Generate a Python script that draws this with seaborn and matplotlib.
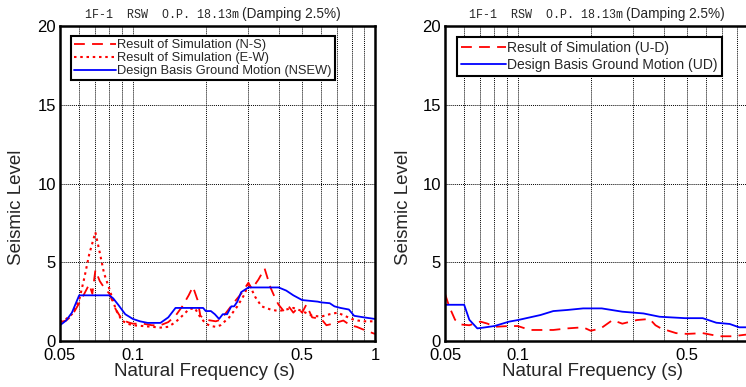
import matplotlib
matplotlib.use('Agg')
import matplotlib.pyplot as plt
import pandas as pd
import seaborn as sns

sns.set_style('white')
plt.rcParams['font.family'] = ['Liberation Sans', 'DejaVu Sans']

# Left panel: horizontal (NS / EW)
f_ns = [0.05, 0.053, 0.056, 0.06, 0.063, 0.066, 0.068, 0.07, 0.073, 0.076, 0.08,
        0.085, 0.09, 0.095, 0.1, 0.11, 0.12, 0.13, 0.14, 0.15, 0.16, 0.17, 0.177,
        0.185, 0.19, 0.2, 0.21, 0.22, 0.23, 0.24, 0.26, 0.28, 0.3, 0.31, 0.33,
        0.35, 0.37, 0.39, 0.4, 0.42, 0.44, 0.46, 0.48, 0.5, 0.52, 0.55, 0.6,
        0.63, 0.67, 0.74, 0.79, 0.84, 0.92, 1.0]
v_ns = [1.2, 1.3, 1.6, 2.4, 3.0, 3.6, 3.0, 4.5, 3.8, 3.4, 3.0,
        2.0, 1.4, 1.2, 1.1, 1.1, 1.0, 1.0, 1.2, 1.6, 2.2, 2.9, 3.45,
        2.6, 1.6, 1.35, 1.3, 1.25, 1.35, 1.7, 2.4, 3.0, 3.7, 3.3, 3.9,
        4.6, 3.4, 2.6, 2.3, 1.9, 2.2, 1.8, 2.1, 1.8, 2.3, 1.5, 1.4,
        1.0, 1.1, 1.3, 1.0, 0.9, 0.65, 0.45]

f_ew = [0.05, 0.053, 0.056, 0.06, 0.063, 0.066, 0.07, 0.073, 0.076, 0.08, 0.085,
        0.09, 0.095, 0.1, 0.11, 0.12, 0.13, 0.14, 0.15, 0.16, 0.17, 0.18, 0.19,
        0.2, 0.21, 0.22, 0.23, 0.25, 0.27, 0.29, 0.3, 0.32, 0.34, 0.37, 0.4,
        0.43, 0.46, 0.5, 0.55, 0.6, 0.65, 0.7, 0.75, 0.8, 0.85, 0.9, 1.0]
v_ew = [1.2, 1.4, 1.7, 2.6, 4.0, 5.5, 6.9, 5.6, 4.3, 3.3, 2.0,
        1.3, 1.1, 1.0, 0.95, 0.9, 0.85, 0.9, 1.2, 1.6, 2.0, 2.1, 1.5,
        1.1, 0.95, 0.9, 1.0, 1.5, 2.2, 3.0, 3.7, 2.8, 2.2, 2.0, 1.9,
        2.0, 2.1, 1.9, 1.6, 1.55, 1.7, 1.8, 1.6, 1.4, 1.3, 1.25, 1.25]

f_dbgm_h = [0.05, 0.053, 0.056, 0.06, 0.08, 0.083, 0.087, 0.093, 0.1, 0.107, 0.115,
            0.13, 0.14, 0.15, 0.195, 0.2, 0.21, 0.218, 0.227, 0.235, 0.245, 0.255,
            0.262, 0.27, 0.28, 0.3, 0.4, 0.43, 0.46, 0.5, 0.58, 0.6, 0.65, 0.68,
            0.72, 0.78, 0.82, 0.9, 1.0]
v_dbgm_h = [1.0, 1.3, 1.8, 2.9, 2.9, 2.7, 2.3, 1.7, 1.4, 1.25, 1.15,
            1.15, 1.5, 2.1, 2.1, 1.9, 1.9, 1.7, 1.4, 1.7, 1.7, 2.2,
            2.2, 2.5, 3.1, 3.4, 3.4, 3.2, 2.9, 2.6, 2.5, 2.45, 2.4, 2.2,
            2.1, 2.0, 1.6, 1.5, 1.4]

# Right panel: vertical (UD)
f_ud = [0.05, 0.052, 0.055, 0.058, 0.063, 0.07, 0.075, 0.08, 0.092, 0.1, 0.112,
        0.14, 0.16, 0.186, 0.2, 0.22, 0.246, 0.27, 0.31, 0.35, 0.37, 0.39, 0.45,
        0.5, 0.58, 0.68, 0.77, 0.87, 0.95, 1.0]
v_ud = [3.0, 2.2, 1.35, 1.05, 1.0, 1.23, 1.1, 0.9, 0.95, 0.95, 0.7,
        0.7, 0.8, 0.87, 0.65, 0.8, 1.33, 1.1, 1.33, 1.4, 1.0, 0.8, 0.5,
        0.45, 0.5, 0.3, 0.3, 0.4, 0.4, 0.35]

f_dbgm_v = [0.05, 0.06, 0.063, 0.068, 0.072, 0.08, 0.092, 0.1, 0.124, 0.14, 0.16,
            0.186, 0.222, 0.27, 0.33, 0.385, 0.49, 0.58, 0.66, 0.75, 0.82, 0.87, 1.0]
v_dbgm_v = [2.3, 2.3, 1.35, 0.8, 0.85, 0.95, 1.23, 1.33, 1.65, 1.9, 1.97,
            2.07, 2.07, 1.86, 1.75, 1.54, 1.45, 1.45, 1.16, 1.08, 0.87, 0.87, 0.85]

major_x = [0.05, 0.1, 0.5, 1]
major_x_labels = ['0.05', '0.1', '0.5', '1']
grid_x = [0.06, 0.07, 0.08, 0.09, 0.2, 0.3, 0.4, 0.6, 0.7, 0.8, 0.9]
y_ticks = [0, 5, 10, 15, 20]
title_code = '1F-1  RSW  O.P. 18.13m'
title_damp = '(Damping 2.5%)'

red = '#ff0000'
blue = '#0000ff'

fig = plt.figure(figsize=(7.46, 3.87), dpi=100)
ax1 = fig.add_axes([60 / 746, 46 / 387, 315 / 746, 315 / 387])
ax2 = fig.add_axes([445 / 746, 46 / 387, 315 / 746, 315 / 387])

sns.lineplot(x=f_ns, y=v_ns, ax=ax1, color=red, lw=1.3, estimator=None,
             label='Result of Simulation (N-S)')
ax1.lines[-1].set_dashes([6, 4])
sns.lineplot(x=f_ew, y=v_ew, ax=ax1, color=red, lw=1.5, estimator=None,
             label='Result of Simulation (E-W)')
ax1.lines[-1].set_dashes([1.2, 1.8])
sns.lineplot(x=f_dbgm_h, y=v_dbgm_h, ax=ax1, color=blue, lw=1.3, estimator=None,
             label='Design Basis Ground Motion (NSEW)')

sns.lineplot(x=f_ud, y=v_ud, ax=ax2, color=red, lw=1.3, estimator=None,
             label='Result of Simulation (U-D)')
ax2.lines[-1].set_dashes([6, 4])
sns.lineplot(x=f_dbgm_v, y=v_dbgm_v, ax=ax2, color=blue, lw=1.3, estimator=None,
             label='Design Basis Ground Motion (UD)')

for ax in (ax1, ax2):
    ax.set_xscale('log')
    ax.set_xlim(0.05, 1)
    ax.set_ylim(0, 20)
    ax.set_xticks(grid_x, minor=True)
    ax.set_xticklabels([], minor=True)
    ax.set_yticks(y_ticks)
    ax.tick_params(which='both', length=0, labelsize=12, colors='black')
    ax.tick_params(axis='x', pad=5)
    ax.tick_params(axis='y', pad=3)
    ax.grid(True, which='both', axis='x', color='black', ls=(0, (1, 1)), lw=0.7)
    ax.grid(True, which='major', axis='y', color='black', ls=(0, (1, 1)), lw=0.7)
    ax.set_axisbelow(True)
    for s in ax.spines.values():
        s.set_color('black')
        s.set_linewidth(1.8)
    ax.set_xlabel('Natural Frequency (s)', fontsize=13.5)
    ax.set_ylabel('Seismic Level', fontsize=13.5)

# left panel shows all labels; right panel is cut by the figure edge before 1
ax1.set_xticks(major_x)
ax1.set_xticklabels(major_x_labels)
ax2.set_xticks(major_x[:3])
ax2.set_xticklabels(major_x_labels[:3])
ax2.set_xticks(grid_x + [1], minor=True)
ax2.set_xticklabels([], minor=True)

ax1.xaxis.set_label_coords(0.46, -0.07)
ax2.xaxis.set_label_coords(0.467, -0.07)
ax1.yaxis.set_label_coords(-0.11, 0.425)
ax2.yaxis.set_label_coords(-0.105, 0.425)

leg_kw = dict(loc='upper left', handlelength=3.2, handletextpad=0.1,
              borderaxespad=0, fancybox=False, framealpha=1, edgecolor='black')
leg1 = ax1.legend(bbox_to_anchor=(0.035, 0.968), fontsize=9.3, borderpad=0.25,
                  labelspacing=0.07, **leg_kw)
leg1.get_frame().set_linewidth(1.5)
leg2 = ax2.legend(bbox_to_anchor=(0.038, 0.965), fontsize=10, borderpad=0.3,
                  labelspacing=0.2, **leg_kw)
leg2.get_frame().set_linewidth(1.5)

for x0 in (85, 469):
    fig.text(x0 / 746, 1 - 18 / 387, title_code,
             family='Liberation Mono', fontsize=8.4, va='baseline', ha='left')
    fig.text((x0 + 157) / 746, 1 - 18 / 387, title_damp,
             fontsize=9.8, va='baseline', ha='left')

fig.savefig('out.png', dpi=100)
